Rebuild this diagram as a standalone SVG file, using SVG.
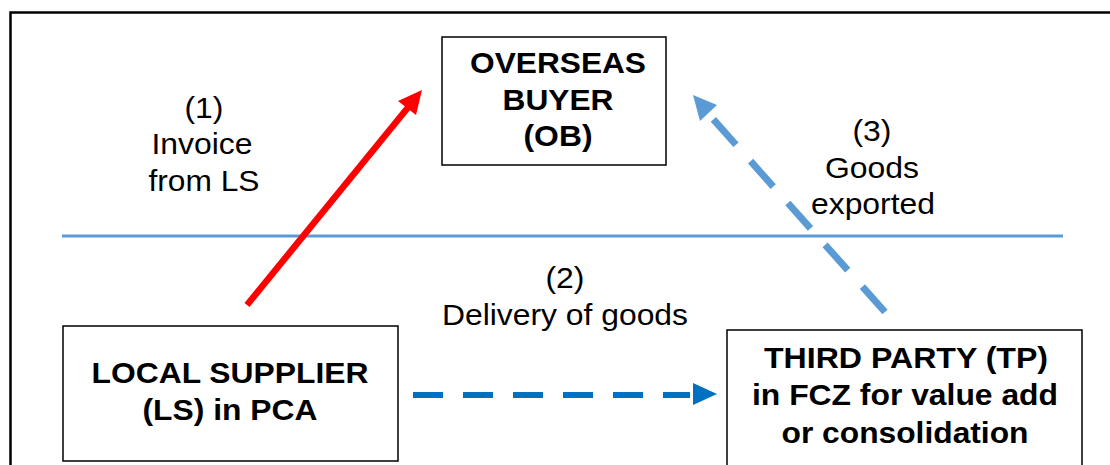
<svg xmlns="http://www.w3.org/2000/svg" width="1110" height="465" viewBox="0 0 1110 465">
  <style>
    .box { fill: #ffffff; stroke: #000000; stroke-width: 1.5; }
    .bold { font-family: "Liberation Sans", Arial, sans-serif; font-weight: bold; font-size: 30px; fill: #000; text-anchor: middle; }
    .lbl { font-family: "Liberation Sans", Arial, sans-serif; font-size: 30px; fill: #000; text-anchor: middle; }
  </style>
  <rect x="0" y="0" width="1110" height="465" fill="#ffffff"/>
  <!-- outer frame -->
  <rect x="10.5" y="12.5" width="1120" height="470" fill="none" stroke="#000" stroke-width="2.5"/>
  <!-- divider line -->
  <line x1="62" y1="236" x2="1063" y2="236" stroke="#5B9BD5" stroke-width="3"/>

  <g id="connectors">
    <!-- (1) invoice: red solid -->
    <line x1="247" y1="305" x2="410" y2="105" stroke="#FF0000" stroke-width="6.5"/>
    <polygon points="422,90 398,101 416,115" fill="#FF0000"/>
    <!-- (3) goods exported: light blue dashed -->
    <line x1="885" y1="312" x2="705" y2="110" stroke="#5B9BD5" stroke-width="7" stroke-dasharray="34 22"/>
    <polygon points="693,95 717,105 700,121" fill="#5B9BD5"/>
    <!-- (2) delivery: blue dashed -->
    <line x1="413" y1="395" x2="690" y2="395" stroke="#0070C0" stroke-width="6" stroke-dasharray="30 20"/>
    <polygon points="717,394 693,383 693,405" fill="#0070C0"/>
  </g>

  <g id="overseas-buyer">
    <rect class="box" x="442" y="37" width="224" height="128"/>
    <text class="bold" x="558" y="73" textLength="176" lengthAdjust="spacingAndGlyphs">OVERSEAS</text>
    <text class="bold" x="558" y="110" textLength="111" lengthAdjust="spacingAndGlyphs">BUYER</text>
    <text class="bold" x="558" y="146" textLength="69" lengthAdjust="spacingAndGlyphs">(OB)</text>
  </g>

  <g id="local-supplier">
    <rect class="box" x="63" y="326" width="335" height="135"/>
    <text class="bold" x="230" y="383" textLength="277" lengthAdjust="spacingAndGlyphs">LOCAL SUPPLIER</text>
    <text class="bold" x="230" y="420" textLength="175" lengthAdjust="spacingAndGlyphs">(LS) in PCA</text>
  </g>

  <g id="third-party">
    <rect class="box" x="727" y="330" width="355" height="150"/>
    <text class="bold" x="906" y="368" textLength="284" lengthAdjust="spacingAndGlyphs">THIRD PARTY (TP)</text>
    <text class="bold" x="905" y="405" textLength="306" lengthAdjust="spacingAndGlyphs">in FCZ for value add</text>
    <text class="bold" x="905" y="443" textLength="247" lengthAdjust="spacingAndGlyphs">or consolidation</text>
  </g>

  <g id="labels">
    <text class="lbl" x="204" y="118" textLength="39" lengthAdjust="spacingAndGlyphs">(1)</text>
    <text class="lbl" x="202" y="154" textLength="101" lengthAdjust="spacingAndGlyphs">Invoice</text>
    <text class="lbl" x="204" y="191" textLength="111" lengthAdjust="spacingAndGlyphs">from LS</text>
    <text class="lbl" x="565" y="288" textLength="39" lengthAdjust="spacingAndGlyphs">(2)</text>
    <text class="lbl" x="565" y="325" textLength="246" lengthAdjust="spacingAndGlyphs">Delivery of goods</text>
    <text class="lbl" x="872" y="141" textLength="39" lengthAdjust="spacingAndGlyphs">(3)</text>
    <text class="lbl" x="872" y="178" textLength="94" lengthAdjust="spacingAndGlyphs">Goods</text>
    <text class="lbl" x="873" y="214" textLength="124" lengthAdjust="spacingAndGlyphs">exported</text>
  </g>
</svg>
